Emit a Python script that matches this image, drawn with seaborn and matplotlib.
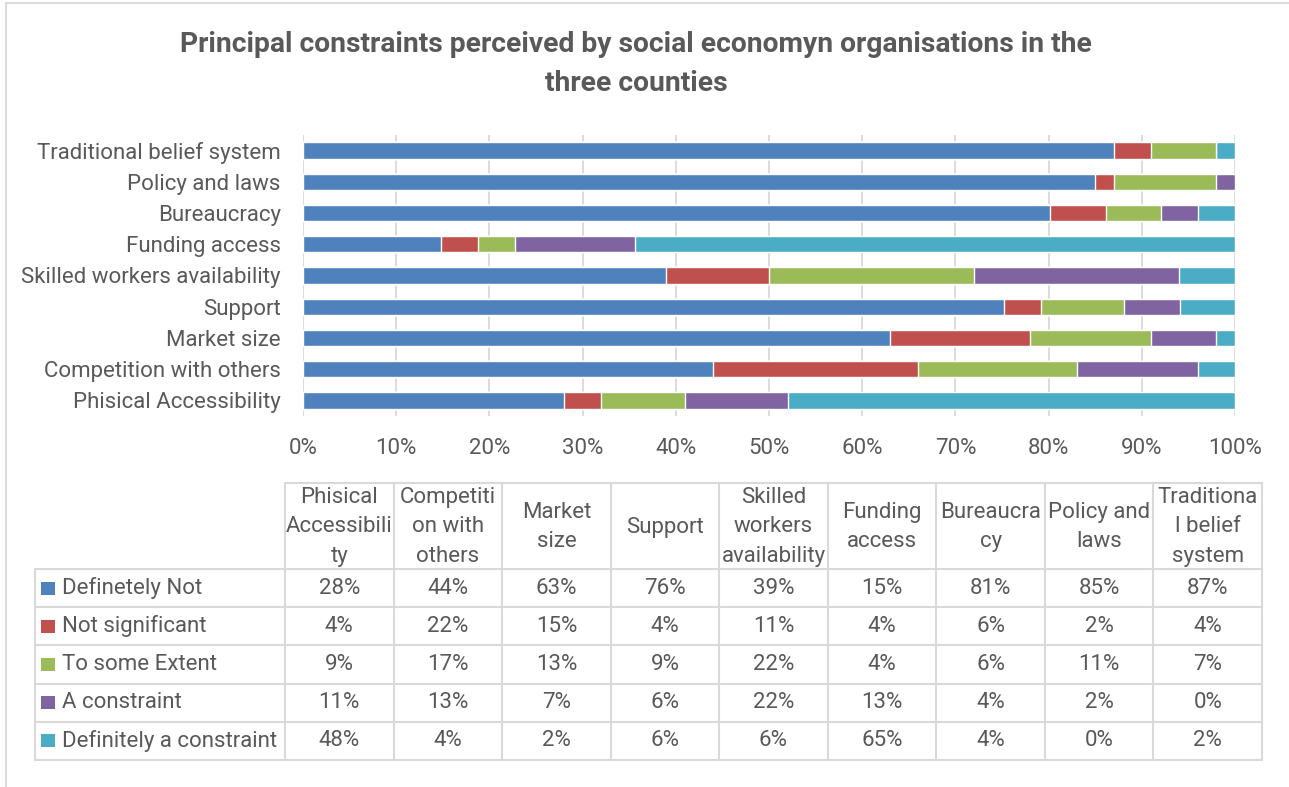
import numpy as np
import pandas as pd
import matplotlib
matplotlib.use("Agg")
import matplotlib.pyplot as plt
import seaborn as sns

# ---- data -----------------------------------------------------------------
title = ("Principal constraints perceived by social economyn organisations in the\n"
         "three counties")

categories = ["Phisical Accessibility", "Competition with others", "Market size",
              "Support", "Skilled workers availability", "Funding access",
              "Bureaucracy", "Policy and laws", "Traditional belief system"]

header_labels = ["Phisical\nAccessibili\nty", "Competiti\non with\nothers",
                 "Market\nsize", "Support", "Skilled\nworkers\navailability",
                 "Funding\naccess", "Bureaucra\ncy", "Policy and\nlaws",
                 "Traditiona\nl belief\nsystem"]

series = ["Definetely Not", "Not significant", "To some Extent",
          "A constraint", "Definitely a constraint"]

definetely_not = [28, 44, 63, 76, 39, 15, 81, 85, 87]
not_significant = [4, 22, 15, 4, 11, 4, 6, 2, 4]
to_some_extent = [9, 17, 13, 9, 22, 4, 6, 11, 7]
a_constraint = [11, 13, 7, 6, 22, 13, 4, 2, 0]
definitely_a_constraint = [48, 4, 2, 6, 6, 65, 4, 0, 2]

colors = ["#4F81BD", "#C0504D", "#9BBB59", "#8064A2", "#4BACC6"]
x_ticks = [0, 10, 20, 30, 40, 50, 60, 70, 80, 90, 100]
x_tick_labels = ["0%", "10%", "20%", "30%", "40%", "50%",
                 "60%", "70%", "80%", "90%", "100%"]

# ---- styling ----------------------------------------------------------------
sns.set_theme(style="white")
FONT = ["Roboto", "DejaVu Sans"]
plt.rcParams["font.family"] = FONT
TEXT = "#595959"
GRID = "#D9D9D9"
FS = 16

W, H = 1289, 787
fig = plt.figure(figsize=(W / 100, H / 100), dpi=100)
fig.patch.set_facecolor("white")

# ---- 100% stacked bars --------------------------------------------------------
df = pd.DataFrame(
    {series[0]: definetely_not, series[1]: not_significant,
     series[2]: to_some_extent, series[3]: a_constraint,
     series[4]: definitely_a_constraint},
    index=categories)
share = df.div(df.sum(axis=1), axis=0) * 100
cum = share.cumsum(axis=1)
cum.index.name = "category"
cum = cum.reset_index()

def px_box(x0, y0, x1, y1):
    return [x0 / W, 1 - y1 / H, (x1 - x0) / W, (y1 - y0) / H]

ax = fig.add_axes(px_box(303, 135, 1235, 416))
order = categories[::-1]
for name, color in reversed(list(zip(series, colors))):
    sns.barplot(data=cum, x=name, y="category", order=order, color=color,
                saturation=1, width=0.52, orient="h", ax=ax, errorbar=None)

ax.set_xlim(0, 100)
ax.set_ylim(len(categories) - 0.5, -0.5)
ax.set_xticks(x_ticks)
ax.set_xticklabels(x_tick_labels)
ax.set_xlabel("")
ax.set_ylabel("")
ax.xaxis.grid(True, color=GRID, linewidth=1.3)
ax.yaxis.grid(False)
ax.set_axisbelow(True)
for s in ax.spines.values():
    s.set_visible(False)
ax.tick_params(axis="x", length=0, pad=16, labelsize=FS, labelcolor=TEXT)
ax.tick_params(axis="y", length=0, pad=16, labelsize=FS, labelcolor=TEXT)
ax.set_facecolor("none")

# ---- overlay in pixel space: frame, title, data table -------------------------
ov = fig.add_axes([0, 0, 1, 1])
ov.set_xlim(0, W)
ov.set_ylim(H, 0)
ov.axis("off")

# chart frame
ov.plot([6, W + 5], [3, 3], color=GRID, lw=1.3)
ov.plot([6, 6], [3, H + 5], color=GRID, lw=1.3)

ov.text(636, 64, title, ha="center", va="center", fontsize=20.3,
        fontweight="bold", color=TEXT, linespacing=1.6)

col_edges = np.linspace(285, 1262, len(categories) + 1)
row_edges = np.linspace(569, 760, len(series) + 1)
head_top = 483
tbl_left = 35

ov.plot([col_edges[0], col_edges[-1]], [head_top, head_top], color=GRID, lw=1.5)
for y in row_edges:
    ov.plot([tbl_left, col_edges[-1]], [y, y], color=GRID, lw=1.5)
ov.plot([tbl_left, tbl_left], [row_edges[0], row_edges[-1]], color=GRID, lw=1.5)
for x in col_edges:
    ov.plot([x, x], [head_top, row_edges[-1]], color=GRID, lw=1.5)

col_centers = (col_edges[:-1] + col_edges[1:]) / 2
row_centers = (row_edges[:-1] + row_edges[1:]) / 2

for cx, lab in zip(col_centers, header_labels):
    ov.text(cx, (head_top + row_edges[0]) / 2 + 1, lab, ha="center", va="center",
            fontsize=FS, color=TEXT, linespacing=1.55)

for ry, name, color in zip(row_centers, series, colors):
    ov.add_patch(plt.Rectangle((41, ry - 6.5), 14, 13, facecolor=color,
                               edgecolor="none"))
    ov.text(62, ry, name, ha="left", va="center", fontsize=FS, color=TEXT)
    for cx, v in zip(col_centers, df[name].values):
        ov.text(cx, ry, f"{v}%", ha="center", va="center", fontsize=FS,
                color=TEXT)

fig.savefig("out.png", dpi=100, facecolor="white")
